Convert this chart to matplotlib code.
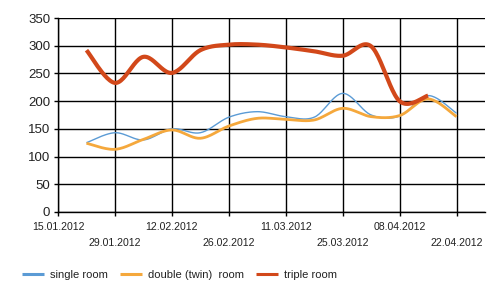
import numpy as np
import matplotlib
matplotlib.use("Agg")
import matplotlib.pyplot as plt
import matplotlib.dates as mdates
from datetime import date, timedelta

plt.rcParams['font.family'] = ['Liberation Sans', 'DejaVu Sans']

# weekly values
weeks = [date(2012, 1, 22) + timedelta(days=7 * i) for i in range(14)]
single_room = [125, 143, 130, 150, 143, 171, 181, 172, 171, 214, 175, 173, 210, 178]
double_room = [124, 113, 131, 148, 133, 155, 169, 167, 166, 187, 172, 174, 204, 172]
triple_room = [292, 233, 280, 251, 292, 302, 302, 297, 290, 282, 299, 200, 210]

tick_dates = [date(2012, 1, 15) + timedelta(days=14 * i) for i in range(8)]
tick_labels = [d.strftime("%d.%m.%Y") for d in tick_dates]


def smooth(x, y, n=24, t=0.5):
    # cardinal spline through the points, like the original chart's spline lines
    x = np.asarray(x, float)
    y = np.asarray(y, float)
    px = np.concatenate([[x[0]], x, [x[-1]]])
    py = np.concatenate([[y[0]], y, [y[-1]]])
    xs, ys = [], []
    for i in range(1, len(px) - 2):
        s = np.linspace(0, 1, n, endpoint=False)
        m1x = t * (px[i + 1] - px[i - 1]); m2x = t * (px[i + 2] - px[i])
        m1y = t * (py[i + 1] - py[i - 1]); m2y = t * (py[i + 2] - py[i])
        h00 = 2 * s**3 - 3 * s**2 + 1
        h10 = s**3 - 2 * s**2 + s
        h01 = -2 * s**3 + 3 * s**2
        h11 = s**3 - s**2
        xs.append(h00 * px[i] + h10 * m1x + h01 * px[i + 1] + h11 * m2x)
        ys.append(h00 * py[i] + h10 * m1y + h01 * py[i + 1] + h11 * m2y)
    xs.append([x[-1]]); ys.append([y[-1]])
    return np.concatenate(xs), np.concatenate(ys)


fig = plt.figure(figsize=(5, 2.96), dpi=100)
ax = fig.add_axes([0.116, 0.284, 0.854, 0.655])

wx = mdates.date2num(weeks)
for vals, col, lw, name in [
    (single_room, '#5b9bd5', 1.0, 'single room'),
    (double_room, '#f5a83c', 2.0, 'double (twin)  room'),
    (triple_room, '#d2481a', 3.0, 'triple room'),
]:
    sx, sy = smooth(wx[:len(vals)], vals)
    ax.plot(sx, sy, color=col, lw=lw, label=name, solid_capstyle='butt')

ax.set_ylim(0, 350)
ax.set_yticks(range(0, 351, 50))
ax.set_xlim(mdates.date2num(date(2012, 1, 15)), mdates.date2num(date(2012, 4, 29)))
ax.set_xticks(mdates.date2num(tick_dates))
ax.set_xticklabels(tick_labels, fontsize=7.6, color='#222222')
for i, tk in enumerate(ax.xaxis.get_major_ticks()):
    tk.set_pad(4 if i % 2 == 0 else 15.5)
ax.tick_params(axis='x', length=3, width=1, color='black')
ax.tick_params(axis='y', length=3, width=1, color='black', pad=2.5,
               labelsize=9.5, labelcolor='#222222')

ax.grid(True, color='black', lw=1)
ax.set_axisbelow(True)
for s in ['top', 'right']:
    ax.spines[s].set_visible(False)
for s in ['left', 'bottom']:
    ax.spines[s].set_color('black')
    ax.spines[s].set_linewidth(1)

leg = fig.legend(loc='lower left', bbox_to_anchor=(0.035, 0.04), ncol=3,
                 frameon=False, fontsize=8, handlelength=2.0, handletextpad=0.5,
                 columnspacing=1.1, borderaxespad=0)
for h in leg.get_lines():
    h.set_linewidth(2.2)
for t in leg.get_texts():
    t.set_color('#222222')

fig.savefig("out.png", dpi=100)
